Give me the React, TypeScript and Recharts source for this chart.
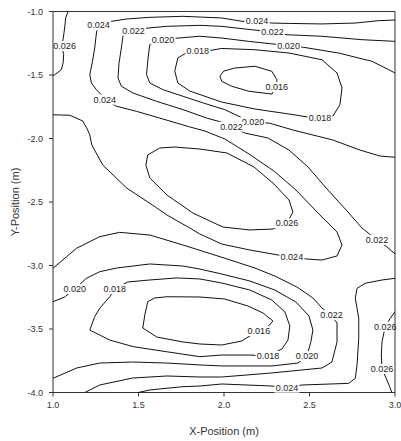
import { ScatterChart, Scatter, XAxis, YAxis, ReferenceLine } from 'recharts';

type Pt = [number, number];

const FONT = '"Liberation Sans", Arial, sans-serif';
const PLOT_LEFT = 53;
const PLOT_RIGHT = 395;

const xTicks = [1.0, 1.5, 2.0, 2.5, 3.0];
const yTicks = [-4.0, -3.5, -3.0, -2.5, -2.0, -1.5, -1.0];

// contour traces, (x m, y m) in drawing order
const c026TopLeft: Pt[] = [
  [1.088, -1.0], [1.074, -1.051], [1.068, -1.13], [1.06, -1.21], [1.052, -1.272],
  [1.062, -1.34], [1.06, -1.4], [1.049, -1.458], [1.01, -1.498], [1.0, -1.506],
];

const c024Main: Pt[] = [
  [3.0, -1.067], [2.906, -1.072], [2.766, -1.091], [2.573, -1.098], [2.385, -1.094],
  [2.28, -1.091], [2.181, -1.077], [2.105, -1.077], [1.987, -1.051], [1.759, -1.038],
  [1.566, -1.046], [1.431, -1.059], [1.344, -1.077], [1.263, -1.109], [1.254, -1.169],
  [1.244, -1.287], [1.231, -1.392], [1.215, -1.498], [1.225, -1.563], [1.254, -1.616],
  [1.273, -1.642], [1.303, -1.694], [1.371, -1.746], [1.488, -1.786], [1.624, -1.839],
  [1.8, -1.909], [1.888, -1.941], [2.005, -2.004], [2.146, -2.122], [2.292, -2.256],
  [2.421, -2.406], [2.555, -2.594], [2.661, -2.736], [2.69, -2.839], [2.661, -2.925],
  [2.573, -2.957], [2.485, -2.949], [2.397, -2.933], [2.315, -2.917], [2.151, -2.878],
  [1.987, -2.831], [1.859, -2.752], [1.8, -2.705], [1.666, -2.602], [1.607, -2.547],
  [1.431, -2.39], [1.291, -2.209], [1.227, -2.051], [1.215, -1.972], [1.203, -1.933],
  [1.174, -1.862], [1.098, -1.817], [1.0, -1.813],
];

const c022Upper: Pt[] = [
  [3.0, -1.235], [2.807, -1.222], [2.573, -1.195], [2.368, -1.183], [2.28, -1.161],
  [2.105, -1.135], [1.987, -1.117], [1.859, -1.109], [1.664, -1.117], [1.556, -1.13],
  [1.468, -1.151], [1.41, -1.183], [1.4, -1.287], [1.386, -1.406], [1.38, -1.524],
  [1.4, -1.589], [1.468, -1.642], [1.605, -1.707], [1.761, -1.773], [1.898, -1.839],
  [2.005, -1.878], [2.046, -1.909], [2.122, -1.957], [2.257, -1.996], [2.38, -2.091],
  [2.491, -2.224], [2.608, -2.406], [2.725, -2.579], [2.807, -2.705], [2.895, -2.799],
  [2.953, -2.854], [3.0, -2.909],
];

const c020Upper: Pt[] = [
  [3.0, -1.484], [2.963, -1.458], [2.865, -1.392], [2.67, -1.327], [2.466, -1.282],
  [2.378, -1.269], [2.144, -1.235], [1.987, -1.209], [1.859, -1.195], [1.732, -1.209],
  [1.644, -1.222], [1.566, -1.261], [1.556, -1.366], [1.547, -1.498], [1.566, -1.563],
  [1.644, -1.616], [1.761, -1.668], [1.878, -1.72], [2.005, -1.773], [2.112, -1.841],
  [2.169, -1.87], [2.268, -1.88], [2.403, -1.933], [2.637, -2.012], [2.795, -2.091],
  [2.912, -2.138], [3.0, -2.148],
];

const c018UpperLoop: Pt[] = [
  [1.847, -1.307], [1.917, -1.307], [1.987, -1.291], [2.181, -1.301], [2.38, -1.327],
  [2.573, -1.38], [2.661, -1.484], [2.69, -1.602], [2.678, -1.734], [2.637, -1.823],
  [2.561, -1.839], [2.491, -1.831], [2.38, -1.807], [2.181, -1.768], [1.987, -1.713],
  [1.917, -1.681], [1.8, -1.626], [1.73, -1.563], [1.712, -1.469], [1.73, -1.366],
  [1.783, -1.323], [1.847, -1.307],
];

const c016UpperLoop: Pt[] = [
  [1.976, -1.508], [1.999, -1.469], [2.064, -1.445], [2.181, -1.431], [2.28, -1.471],
  [2.309, -1.537], [2.309, -1.594], [2.28, -1.65], [2.146, -1.628], [2.046, -1.589],
  [1.987, -1.55], [1.976, -1.508],
];

const c026Blob: Pt[] = [
  [1.554, -2.13], [1.543, -2.209], [1.566, -2.311], [1.666, -2.445], [1.818, -2.587],
  [1.993, -2.697], [2.151, -2.72], [2.286, -2.713], [2.368, -2.665], [2.403, -2.579],
  [2.38, -2.484], [2.292, -2.358], [2.175, -2.224], [2.017, -2.114], [1.859, -2.083],
  [1.712, -2.067], [1.624, -2.075], [1.554, -2.13],
];

const c022Lower: Pt[] = [
  [1.0, -3.022], [1.137, -2.865], [1.273, -2.773], [1.39, -2.739], [1.566, -2.76],
  [1.761, -2.839], [2.005, -2.943], [2.181, -3.02], [2.297, -3.083], [2.426, -3.169],
  [2.52, -3.256], [2.573, -3.335], [2.625, -3.39], [2.661, -3.453], [2.661, -3.602],
  [2.631, -3.76], [2.573, -3.807], [2.28, -3.846], [1.987, -3.878], [1.859, -3.878],
  [1.666, -3.87], [1.466, -3.886], [1.273, -3.941], [1.186, -4.0],
];

const c020Lower: Pt[] = [
  [1.0, -3.285], [1.068, -3.248], [1.127, -3.185], [1.195, -3.101], [1.273, -3.049],
  [1.371, -3.02], [1.566, -2.988], [1.759, -3.004], [1.859, -3.028], [1.987, -3.067],
  [2.151, -3.122], [2.297, -3.193], [2.42, -3.287], [2.497, -3.398], [2.52, -3.508],
  [2.508, -3.602], [2.485, -3.713], [2.432, -3.768], [2.28, -3.791], [1.987, -3.791],
  [1.859, -3.783], [1.666, -3.768], [1.466, -3.76], [1.273, -3.768], [1.139, -3.807],
  [1.0, -3.888],
];

const c018LowerLoop: Pt[] = [
  [1.361, -3.185], [1.437, -3.13], [1.566, -3.114], [1.724, -3.098], [1.859, -3.106],
  [1.987, -3.138], [2.151, -3.193], [2.28, -3.272], [2.356, -3.366], [2.385, -3.476],
  [2.374, -3.587], [2.339, -3.657], [2.257, -3.713], [2.151, -3.705], [1.987, -3.705],
  [1.859, -3.718], [1.664, -3.679], [1.469, -3.639], [1.332, -3.587], [1.273, -3.547],
  [1.215, -3.508], [1.244, -3.403], [1.273, -3.337], [1.332, -3.246], [1.361, -3.185],
];

const c016LowerLoop: Pt[] = [
  [1.554, -3.285], [1.595, -3.256], [1.666, -3.246], [1.859, -3.248], [2.005, -3.264],
  [2.14, -3.319], [2.228, -3.374], [2.286, -3.437], [2.245, -3.5], [2.204, -3.516],
  [2.14, -3.563], [2.105, -3.594], [1.987, -3.626], [1.859, -3.618], [1.759, -3.602],
  [1.607, -3.563], [1.525, -3.492], [1.537, -3.39], [1.554, -3.285],
];

const c024Lower: Pt[] = [
  [3.0, -3.101], [2.924, -3.114], [2.826, -3.14], [2.778, -3.18], [2.768, -3.258],
  [2.788, -3.416], [2.788, -3.573], [2.778, -3.783], [2.768, -3.888], [2.729, -3.928],
  [2.456, -3.941], [2.368, -3.962], [2.28, -3.949], [1.987, -3.933], [1.859, -3.949],
  [1.761, -3.954], [1.566, -3.98], [1.498, -4.0],
];

const c026Right: Pt[] = [
  [3.0, -3.364], [2.972, -3.416], [2.943, -3.482], [2.924, -3.6], [2.92, -3.705],
  [2.924, -3.815], [2.953, -3.902], [2.982, -4.0],
];

const contours = [
  c026TopLeft, c024Main, c022Upper, c020Upper, c018UpperLoop, c016UpperLoop, c026Blob,
  c022Lower, c020Lower, c018LowerLoop, c016LowerLoop, c024Lower, c026Right,
];

// inline level labels: x, y, text
const levelLabels: [number, number, string][] = [
  [1.068, -1.272, '0.026'],
  [1.266, -1.109, '0.024'],
  [1.471, -1.151, '0.022'],
  [1.644, -1.222, '0.020'],
  [1.847, -1.307, '0.018'],
  [2.193, -1.077, '0.024'],
  [2.283, -1.161, '0.022'],
  [2.378, -1.269, '0.020'],
  [2.309, -1.594, '0.016'],
  [1.303, -1.694, '0.024'],
  [2.561, -1.839, '0.018'],
  [2.169, -1.87, '0.020'],
  [2.044, -1.907, '0.022'],
  [2.368, -2.668, '0.026'],
  [2.397, -2.935, '0.024'],
  [2.895, -2.799, '0.022'],
  [1.127, -3.185, '0.020'],
  [1.361, -3.185, '0.018'],
  [2.629, -3.39, '0.022'],
  [2.204, -3.516, '0.016'],
  [2.257, -3.713, '0.018'],
  [2.485, -3.713, '0.020'],
  [2.943, -3.482, '0.026'],
  [2.924, -3.815, '0.026'],
  [2.368, -3.962, '0.024'],
];

const toRows = (pts: Pt[]) => pts.map(([x, y]) => ({ x, y }));
const labelRows = levelLabels.map(([x, y, text]) => ({ x, y, text }));

function LevelLabel(props: any) {
  const { cx, cy, payload } = props;
  const w = 25;
  const h = 10;
  const left = Math.max(cx - w / 2, PLOT_LEFT + 1);
  const right = Math.min(cx + w / 2, PLOT_RIGHT - 1);
  return (
    <g>
      <rect x={left} y={cy - h / 2} width={right - left} height={h} fill="#fff" />
      <text x={cx} y={cy} dy="0.35em" textAnchor="middle" fontSize={9} fontFamily={FONT} fill="#222">
        {payload.text}
      </text>
    </g>
  );
}

const NoDot = () => <g />;

function XTitle(props: any) {
  const { viewBox } = props;
  const cx = viewBox.x + viewBox.width / 2;
  const cy = viewBox.y + 38.5;
  return (
    <text x={cx} y={cy} textAnchor="middle" dominantBaseline="central" fontSize={11} fontFamily={FONT} fill="#333">
      X-Position (m)
    </text>
  );
}

function YTitle(props: any) {
  const { viewBox } = props;
  const cx = viewBox.x + 7;
  const cy = viewBox.y + viewBox.height / 2;
  return (
    <text
      x={cx}
      y={cy}
      transform={`rotate(-90 ${cx} ${cy})`}
      textAnchor="middle"
      dominantBaseline="central"
      fontSize={11}
      fontFamily={FONT}
      fill="#333"
    >
      Y-Position (m)
    </text>
  );
}

export default function App() {
  const tick = { fontSize: 9, fill: '#333', fontFamily: FONT };
  return (
    <>
      <style>{'html, body { margin: 0; overflow: hidden; }'}</style>
      <ScatterChart width={401} height={441} margin={{ top: 11.5, right: 6, bottom: 3.5, left: 8 }}>
        <XAxis
          type="number"
          dataKey="x"
          domain={[1, 3]}
          ticks={xTicks}
          tickFormatter={(v: number) => v.toFixed(1)}
          height={45}
          tickSize={4}
          tickMargin={5}
          stroke="#333"
          tick={tick}
          label={(p: any) => <XTitle {...p} />}
        />
        <YAxis
          type="number"
          dataKey="y"
          domain={[-4, -1]}
          ticks={yTicks}
          tickFormatter={(v: number) => v.toFixed(1)}
          width={45}
          tickSize={4}
          tickMargin={6}
          stroke="#333"
          tick={tick}
          label={(p: any) => <YTitle {...p} />}
        />
        <ReferenceLine y={-1} stroke="#333" />
        <ReferenceLine x={3} stroke="#333" />
        {contours.map((c, i) => (
          <Scatter
            key={i}
            data={toRows(c)}
            line={{ stroke: '#111', strokeWidth: 1, fill: 'none' }}
            shape={NoDot}
            isAnimationActive={false}
          />
        ))}
        <Scatter data={labelRows} shape={LevelLabel} isAnimationActive={false} />
      </ScatterChart>
    </>
  );
}
